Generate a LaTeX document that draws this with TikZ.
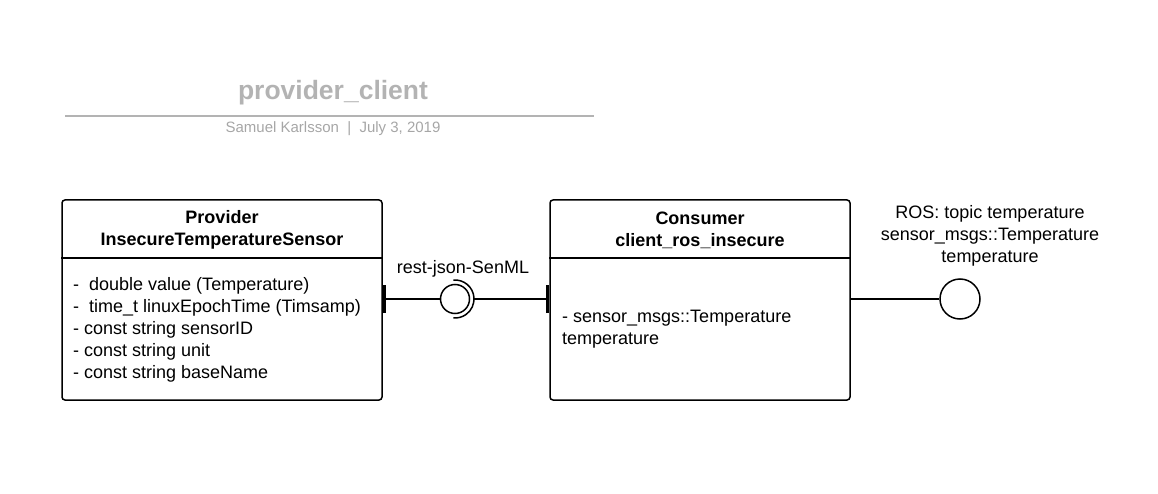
\documentclass[tikz,border=0pt]{standalone}
\usepackage{fontspec}
\setmainfont{Liberation Sans}
\definecolor{titlegray}{HTML}{B3B3B3}
\definecolor{subgray}{HTML}{A6A6A6}
\tikzset{
  umlbox/.style={draw, line width=1.5pt, rounded corners=3pt, minimum width=320pt, minimum height=200pt, inner sep=0pt},
  wire/.style={line width=1.5pt},
  lolly/.style={circle, draw, line width=1.5pt, inner sep=0pt},
  txt/.style={inner sep=0pt, font=\fontsize{18}{22}\selectfont},
  hdr/.style={txt, font=\fontsize{18}{22}\selectfont\bfseries, align=center},
  tick/.style={line width=3pt}
}
\begin{document}
\begin{tikzpicture}[x=1pt,y=-1pt]
\useasboundingbox (0,0) rectangle (1158,494);
% title
\node[inner sep=0pt, text=titlegray, font=\fontsize{26.5}{28}\selectfont\bfseries] (title) at (333,93) {provider\_client};
\coordinate (tl) at (65,116);
\coordinate (tr) at (594,116);
\draw[titlegray, line width=1.5pt] (tl) -- (tr);
\node[inner sep=0pt, text=subgray, font=\fontsize{15}{17}\selectfont] (sub) at (333,129) {Samuel Karlsson\ \ |\ \ July 3, 2019};
% provider box
\node[umlbox, minimum width=320pt] (prov) at (222,300) {};
\draw[wire] (prov.west |- 0,258) coordinate (pl) -- (prov.east |- 0,258) coordinate (pr);
\node[hdr] (provh) at (222,230) {Provider\\InsecureTemperatureSensor};
\node[txt, anchor=north west, align=left] (provb) at (73,277) {-\ \ double value (Temperature)\\-\ \ time\_t linuxEpochTime (Timsamp)\\- const string sensorID\\- const string unit\\- const string baseName};
% consumer box
\node[umlbox, minimum width=300pt] (cons) at (700,300) {};
\draw[wire] (cons.west |- 0,258) coordinate (cl) -- (cons.east |- 0,258) coordinate (cr);
\node[hdr] (consh) at (700,230) {Consumer\\client\_ros\_insecure};
\node[txt, anchor=north west, align=left] (consb) at (562,310) {- sensor\_msgs::Temperature\\temperature};
% interface between
\node[lolly, minimum size=29pt] (ball) at (455,299) {};
\coordinate (tp) at (prov.east |- 0,299);
\coordinate (tc) at (cons.west |- 0,299);
\draw[wire] (tp) -- (ball.west);
\draw[wire] ([xshift=19pt]ball.center) -- (tc);
\draw[wire] ([shift={(95:19pt)}]ball.center) arc[start angle=95, end angle=-95, radius=19pt];
\draw[tick] ([xshift=2pt,yshift=-14pt]tp) -- ([xshift=2pt,yshift=14pt]tp);
\draw[tick] ([xshift=-2pt,yshift=-14pt]tc) -- ([xshift=-2pt,yshift=14pt]tc);
\node[txt] (ifl) at (463,269) {rest-json-SenML};
% ROS interface
\node[lolly, minimum size=40pt] (ros) at (960,299) {};
\draw[wire] (cons.east |- ros) -- (ros.west);
\node[txt, align=center] (rosl) at (990,236) {ROS: topic temperature\\sensor\_msgs::Temperature\\temperature};
\end{tikzpicture}
\end{document}
